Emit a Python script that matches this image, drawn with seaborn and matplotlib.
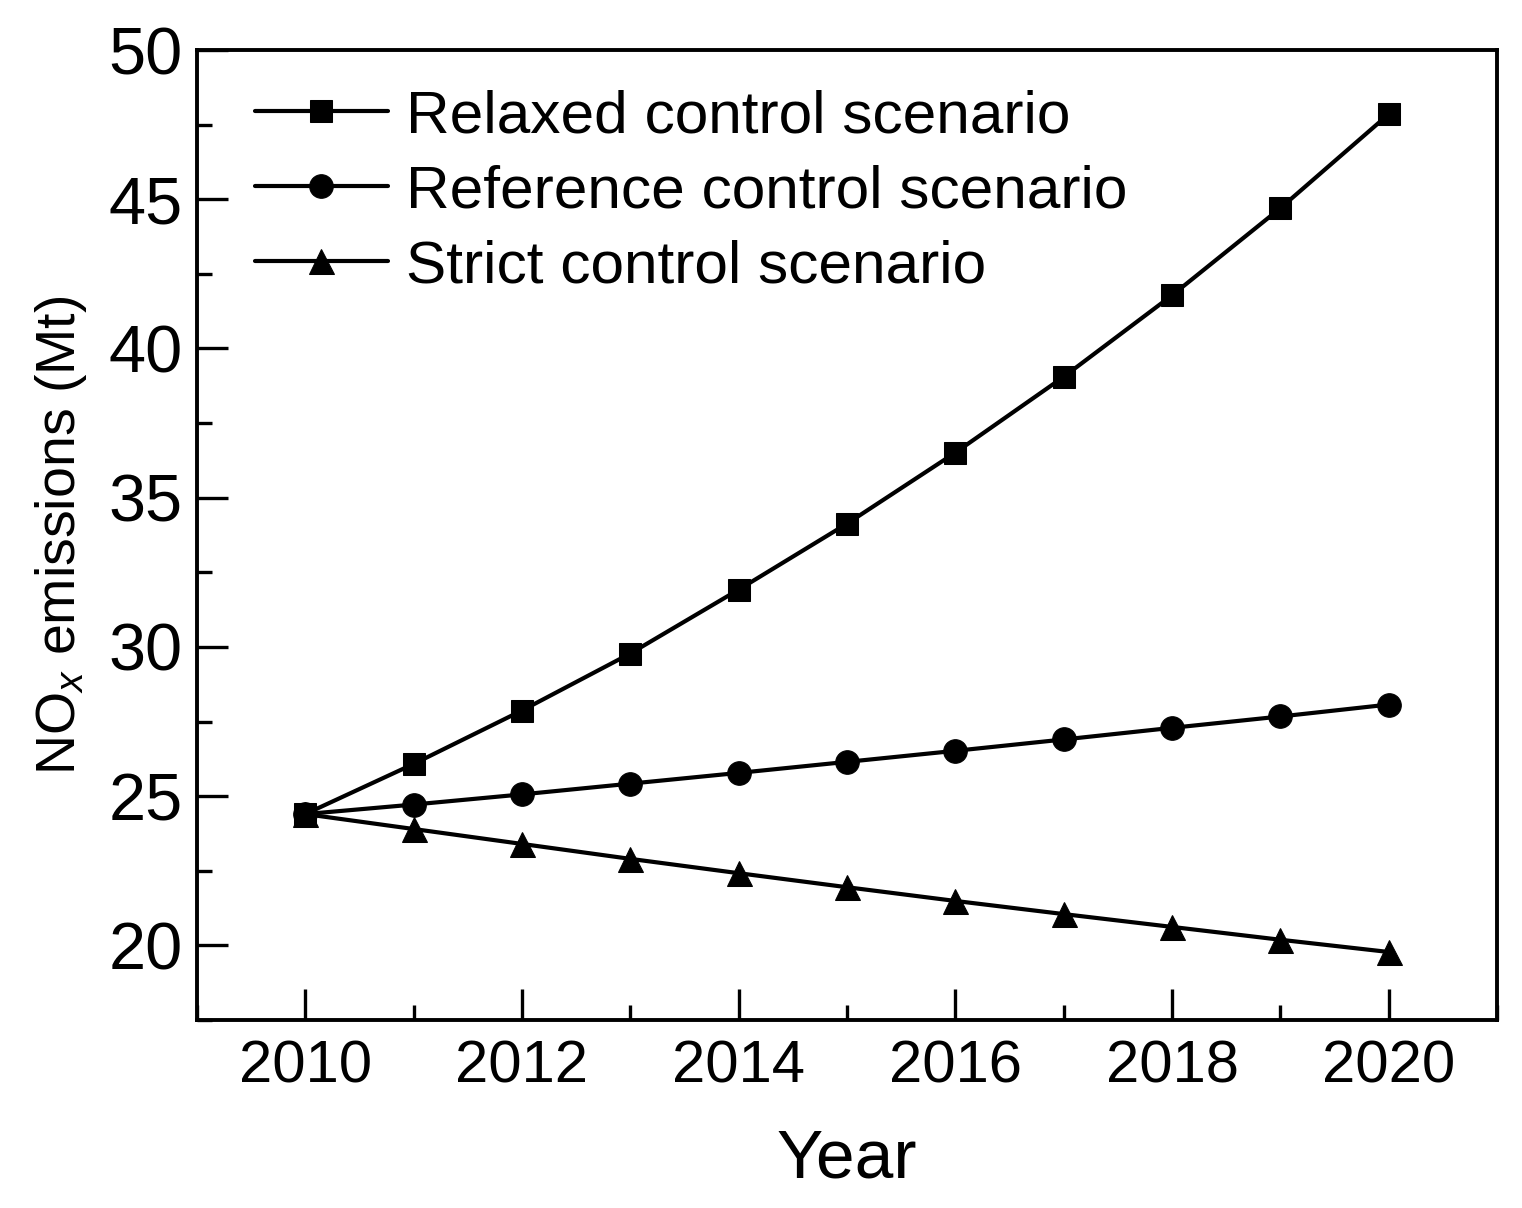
import matplotlib
matplotlib.use("Agg")
import matplotlib.pyplot as plt
import seaborn as sns
import pandas as pd
from matplotlib.ticker import MultipleLocator

years = [2010, 2011, 2012, 2013, 2014, 2015, 2016, 2017, 2018, 2019, 2020]
relaxed = [24.4, 26.08, 27.87, 29.78, 31.92, 34.13, 36.51, 39.05, 41.78, 44.7, 47.85]
reference = [24.4, 24.72, 25.06, 25.42, 25.78, 26.15, 26.52, 26.9, 27.29, 27.67, 28.07]
strict = [24.4, 23.9, 23.4, 22.9, 22.42, 21.95, 21.49, 21.05, 20.62, 20.19, 19.78]
labels = ["Relaxed control scenario", "Reference control scenario", "Strict control scenario"]

sns.set_theme(style="ticks")
plt.rcParams['font.family'] = ['Liberation Sans', 'DejaVu Sans']
plt.rcParams['mathtext.fontset'] = 'custom'
plt.rcParams['mathtext.rm'] = 'Liberation Sans'
plt.rcParams['mathtext.it'] = 'Liberation Sans:italic'
for k in ['text.color', 'axes.labelcolor', 'xtick.color', 'ytick.color', 'axes.edgecolor']:
    plt.rcParams[k] = 'black'

df = pd.DataFrame({
    "Year": years * 3,
    "Value": relaxed + reference + strict,
    "Scenario": [labels[0]] * len(years) + [labels[1]] * len(years) + [labels[2]] * len(years),
})

fig = plt.figure(figsize=(15.22, 12.08), dpi=100)
ax = fig.add_axes([0.1294, 0.1556, 0.8542, 0.803])

markers = {labels[0]: "s", labels[1]: "o", labels[2]: "^"}
sizes = {labels[0]: 16, labels[1]: 17, labels[2]: 18}
for lab in labels:
    sub = df[df["Scenario"] == lab]
    sns.lineplot(data=sub, x="Year", y="Value", ax=ax, color="black", marker=markers[lab],
                 markersize=sizes[lab], markeredgecolor="black", linewidth=3.0, label=lab)

ax.set_xlim(2009, 2021)
ax.set_ylim(17.5, 50)
ax.xaxis.set_major_locator(MultipleLocator(2))
ax.xaxis.set_minor_locator(MultipleLocator(1))
ax.yaxis.set_major_locator(MultipleLocator(5))
ax.yaxis.set_minor_locator(MultipleLocator(2.5))
ax.tick_params(which="major", direction="in", length=22, width=2.4, top=False, right=False, color="black")
ax.tick_params(which="minor", direction="in", length=11, width=2.4, top=False, right=False, color="black")
ax.tick_params(axis="x", which="major", labelsize=43, pad=14)
ax.tick_params(axis="y", which="major", labelsize=48, pad=10)
for s in ax.spines.values():
    s.set_linewidth(2.8)
    s.set_color("black")
    s.set_visible(True)

ax.set_xlabel("Year", fontsize=50, labelpad=24)
ax.set_ylabel("NO$_x$ emissions (Mt)", fontsize=40, labelpad=14)

leg = ax.legend(loc="upper left", frameon=False, fontsize=43.5, handlelength=2.2,
                handletextpad=0.3, labelspacing=0.33, borderaxespad=0.3,
                bbox_to_anchor=(0.012, 1.003))

fig.savefig("out.png", dpi=100)
